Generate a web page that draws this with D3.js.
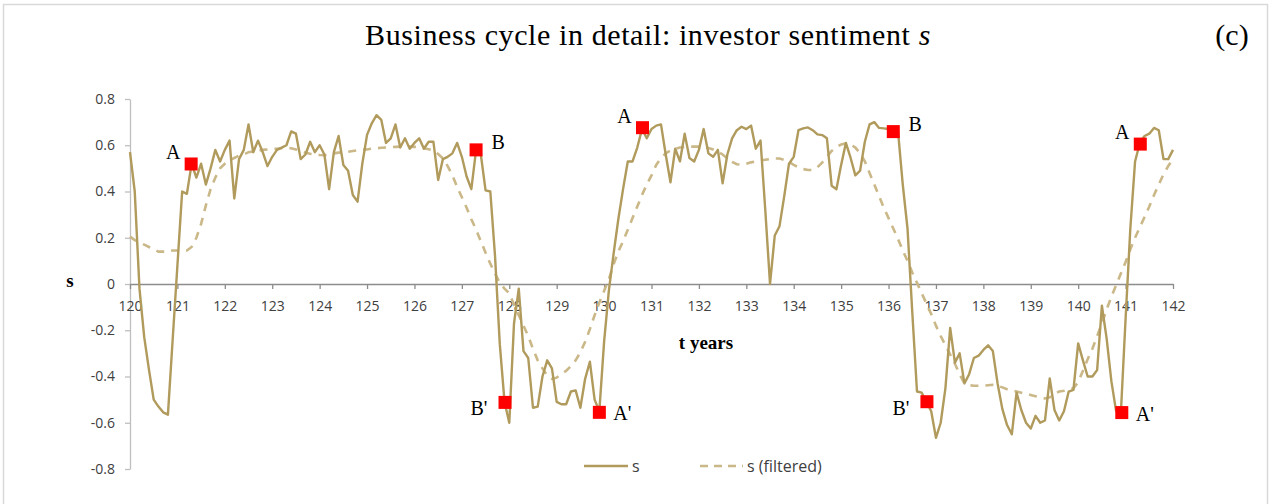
<!DOCTYPE html>
<html>
<head>
<meta charset="utf-8">
<script src="https://cdn.jsdelivr.net/npm/d3@7"></script>
<style>
  html, body { margin: 0; padding: 0; background: #fff; }
  svg { display: block; }
</style>
</head>
<body>
<svg id="chart" width="1271" height="504"></svg>
<script>
// ---------------- DATA ----------------
const tStart = 120;      // first sample (years)
const tStep = 0.1;       // sampling interval (years)

// investor sentiment s, sampled every 0.1 year from t = 120 to t = 142
const sValues = [
  0.57, 0.40, -0.02, -0.23, -0.37, -0.50, -0.53, -0.555, -0.565, -0.24,
  0.08, 0.40, 0.39, 0.52, 0.46, 0.52, 0.43, 0.50, 0.58, 0.53,
  0.58, 0.62, 0.37, 0.54, 0.58, 0.69, 0.57, 0.62, 0.57, 0.51,
  0.55, 0.58, 0.59, 0.60, 0.66, 0.65, 0.54, 0.56, 0.615, 0.57,
  0.60, 0.56, 0.41, 0.57, 0.64, 0.515, 0.49, 0.385, 0.356, 0.52,
  0.645, 0.695, 0.73, 0.71, 0.61, 0.63, 0.69, 0.59, 0.63, 0.585,
  0.61, 0.63, 0.585, 0.615, 0.615, 0.45, 0.54, 0.55, 0.565, 0.61,
  0.55, 0.465, 0.41, 0.58, 0.56, 0.405, 0.40, 0.12, -0.26, -0.51,
  -0.60, -0.17, -0.02, -0.29, -0.32, -0.535, -0.53, -0.40, -0.33, -0.365,
  -0.51, -0.52, -0.52, -0.465, -0.46, -0.535, -0.41, -0.336, -0.50, -0.55,
  -0.25, -0.03, 0.13, 0.28, 0.41, 0.53, 0.53, 0.59, 0.67, 0.63,
  0.67, 0.685, 0.69, 0.56, 0.44, 0.585, 0.53, 0.65, 0.545, 0.53,
  0.58, 0.67, 0.565, 0.55, 0.58, 0.435, 0.56, 0.63, 0.665, 0.68,
  0.67, 0.685, 0.585, 0.62, 0.32, 0.0, 0.21, 0.25, 0.38, 0.52,
  0.55, 0.665, 0.673, 0.677, 0.665, 0.647, 0.644, 0.63, 0.425, 0.41,
  0.515, 0.61, 0.545, 0.47, 0.49, 0.615, 0.69, 0.70, 0.675, 0.673,
  0.67, 0.66, 0.66, 0.43, 0.24, -0.12, -0.465, -0.47, -0.51, -0.55,
  -0.665, -0.60, -0.45, -0.19, -0.34, -0.30, -0.43, -0.39, -0.32, -0.31,
  -0.285, -0.265, -0.29, -0.43, -0.54, -0.61, -0.65, -0.47, -0.545, -0.60,
  -0.625, -0.57, -0.60, -0.59, -0.408, -0.545, -0.59, -0.55, -0.465, -0.458,
  -0.257, -0.33, -0.40, -0.40, -0.372, -0.094, -0.235, -0.42, -0.55, -0.56,
  -0.15, 0.24, 0.53, 0.61, 0.64, 0.65, 0.675, 0.665, 0.54, 0.54,
  0.58
];

// filtered s, same sampling
const sFiltered = [
  0.205, 0.19, 0.18, 0.17, 0.16, 0.15, 0.14, 0.14, 0.14, 0.145,
  0.145, 0.145, 0.145, 0.16, 0.20, 0.26, 0.34, 0.41, 0.46, 0.50,
  0.52, 0.535, 0.545, 0.555, 0.56, 0.57, 0.573, 0.577, 0.58, 0.582,
  0.584, 0.585, 0.587, 0.588, 0.587, 0.582, 0.575, 0.568, 0.563, 0.56,
  0.558, 0.557, 0.56, 0.565, 0.568, 0.57, 0.572, 0.575, 0.578, 0.58,
  0.582, 0.585, 0.587, 0.589, 0.59, 0.592, 0.593, 0.594, 0.594, 0.594,
  0.593, 0.59, 0.587, 0.583, 0.578, 0.562, 0.543, 0.51, 0.47, 0.42,
  0.375, 0.33, 0.28, 0.235, 0.185, 0.135, 0.088, 0.045, 0.005, -0.02,
  -0.04, -0.09, -0.135, -0.18, -0.225, -0.28, -0.33, -0.365, -0.395, -0.41,
  -0.405, -0.39, -0.375, -0.355, -0.33, -0.295, -0.25, -0.195, -0.135, -0.08,
  -0.03, 0.02, 0.085, 0.14, 0.185, 0.235, 0.285, 0.335, 0.385, 0.43,
  0.47, 0.515, 0.545, 0.565, 0.577, 0.585, 0.59, 0.593, 0.594, 0.594,
  0.594, 0.593, 0.588, 0.582, 0.573, 0.56, 0.543, 0.528, 0.518, 0.516,
  0.52, 0.526, 0.53, 0.534, 0.537, 0.54, 0.543, 0.543, 0.537, 0.528,
  0.515, 0.505, 0.497, 0.493, 0.493, 0.505, 0.525, 0.55, 0.575, 0.592,
  0.603, 0.608, 0.603, 0.59, 0.565, 0.53, 0.48, 0.43, 0.38, 0.33,
  0.285, 0.24, 0.195, 0.145, 0.10, 0.05, 0.005, -0.04, -0.085, -0.13,
  -0.18, -0.225, -0.265, -0.305, -0.345, -0.39, -0.43, -0.438, -0.44, -0.44,
  -0.44, -0.438, -0.436, -0.44, -0.447, -0.455, -0.46, -0.465, -0.47, -0.475,
  -0.48, -0.485, -0.49, -0.495, -0.49, -0.475, -0.465, -0.462, -0.458, -0.45,
  -0.425, -0.375, -0.325, -0.28, -0.225, -0.17, -0.11, -0.055, -0.005, 0.045,
  0.095, 0.15, 0.20, 0.245, 0.29, 0.335, 0.385, 0.43, 0.475, 0.51,
  0.54
];

// cycle turning points
const pointLabels = ["A", "B", "B'", "A'", "A", "B", "B'", "A'", "A"];
const pointT      = [121.29, 127.30, 127.91, 129.90, 130.81, 136.10, 136.81, 140.92, 141.31];
const pointS      = [0.519, 0.580, -0.512, -0.555, 0.676, 0.659, -0.509, -0.556, 0.605];

const xTicks = [120,121,122,123,124,125,126,127,128,129,130,131,132,133,134,135,136,137,138,139,140,141,142];
const yTicks = [-0.8,-0.6,-0.4,-0.2,0,0.2,0.4,0.6,0.8];
const seriesNames = ["s", "s (filtered)"];

// ---------------- STYLE / LAYOUT ----------------
const solidColor = "#B09A5C";
const dashColor = "#CBB888";
const tickColor = "#404040";
const labelOffsets = {   // label placement relative to the marker
  "A":  [-18, -12],
  "B":  [22, -8],
  "B'": [-26, 6],
  "A'": [23, 1]
};

const svg = d3.select("#chart");

// outer border
svg.append("rect")
  .attr("x", 3.5).attr("y", 4.5).attr("width", 1264).attr("height", 510)
  .attr("fill", "#fff").attr("stroke", "#D9D9D9").attr("stroke-width", 1.5);

const x = d3.scaleLinear().domain([120, 142]).range([130, 1173]);
const y = d3.scaleLinear().domain([-0.8, 0.8]).range([469, 99]);

const fmt = d => d === 0 ? "0" : d.toFixed(1).replace("\u2212", "-");

// y axis
const yAxis = svg.append("g")
  .attr("transform", `translate(${x(120)},0)`)
  .call(d3.axisLeft(y).tickValues(yTicks).tickFormat(fmt).tickSize(5).tickSizeOuter(0).tickPadding(10));
yAxis.select(".domain").attr("stroke", "#BFBFBF").attr("stroke-width", 1.3);
yAxis.selectAll(".tick line").attr("stroke", "#BFBFBF").attr("stroke-width", 1.3);
yAxis.selectAll(".tick text")
  .attr("fill", tickColor)
  .style("font-family", "'Open Sans', 'Noto Sans', sans-serif")
  .style("font-size", "14px");

// x axis at s = 0
const xAxis = svg.append("g")
  .attr("transform", `translate(0,${y(0)})`)
  .call(d3.axisBottom(x).tickValues(xTicks).tickFormat(d3.format("d")).tickSize(5).tickSizeOuter(0).tickPadding(12));
xAxis.select(".domain").attr("stroke", "#8C8C8C").attr("stroke-width", 1.3);
xAxis.selectAll(".tick line").attr("stroke", "#8C8C8C").attr("stroke-width", 1.3);
xAxis.selectAll(".tick text")
  .attr("fill", tickColor)
  .style("font-family", "'Open Sans', 'Noto Sans', sans-serif")
  .style("font-size", "14px");

// series
const idx = d3.range(sValues.length);
const tOf = i => tStart + i * tStep;

const line = vals => d3.line()
  .x(i => x(tOf(i)))
  .y(i => y(vals[i]));

svg.append("path")
  .attr("d", line(sFiltered)(idx))
  .attr("fill", "none")
  .attr("stroke", dashColor)
  .attr("stroke-width", 2.6)
  .attr("stroke-dasharray", "8,7");

svg.append("path")
  .attr("d", line(sValues)(idx))
  .attr("fill", "none")
  .attr("stroke", solidColor)
  .attr("stroke-width", 2.4)
  .attr("stroke-linejoin", "round");

// markers
const msize = 13;
svg.selectAll("rect.marker")
  .data(pointT)
  .join("rect")
  .attr("class", "marker")
  .attr("x", (d) => x(d) - msize / 2)
  .attr("y", (d, i) => y(pointS[i]) - msize / 2)
  .attr("width", msize).attr("height", msize)
  .attr("fill", "#FF0000");

svg.selectAll("text.plabel")
  .data(pointLabels)
  .join("text")
  .attr("class", "plabel")
  .attr("x", (d, i) => x(pointT[i]) + labelOffsets[d][0])
  .attr("y", (d, i) => y(pointS[i]) + labelOffsets[d][1])
  .attr("text-anchor", "middle")
  .attr("dominant-baseline", "central")
  .style("font-family", "'Liberation Serif', 'DejaVu Serif', serif")
  .style("font-size", "20px")
  .attr("fill", "#000")
  .text(d => d);

// title
const title = svg.append("text")
  .attr("x", 648).attr("y", 45)
  .attr("text-anchor", "middle")
  .style("font-family", "'Liberation Serif', 'DejaVu Serif', serif")
  .style("font-size", "30px")
  .style("letter-spacing", "0.6px")
  .attr("fill", "#000");
title.append("tspan").text("Business cycle in detail: investor sentiment ");
title.append("tspan").style("font-style", "italic").text("s");

svg.append("text")
  .attr("x", 1232).attr("y", 45)
  .attr("text-anchor", "middle")
  .style("font-family", "'Liberation Serif', 'DejaVu Serif', serif")
  .style("font-size", "30px")
  .text("(c)");

// axis titles
svg.append("text")
  .attr("x", 70).attr("y", 287)
  .attr("text-anchor", "middle")
  .style("font-family", "'Liberation Serif', 'DejaVu Serif', serif")
  .style("font-size", "19px").style("font-weight", "bold")
  .text("s");

svg.append("text")
  .attr("x", 706).attr("y", 349)
  .attr("text-anchor", "middle")
  .style("font-family", "'Liberation Serif', 'DejaVu Serif', serif")
  .style("font-size", "19px").style("font-weight", "bold")
  .text("t years");

// legend
const legend = svg.append("g").attr("transform", "translate(0,466)");
const legendItems = [
  {name: seriesNames[0], x1: 584, x2: 628, color: solidColor, dash: null},
  {name: seriesNames[1], x1: 700, x2: 743, color: dashColor, dash: "8,6"}
];
legendItems.forEach(it => {
  legend.append("line")
    .attr("x1", it.x1).attr("x2", it.x2).attr("y1", 0).attr("y2", 0)
    .attr("stroke", it.color).attr("stroke-width", 2.6)
    .attr("stroke-dasharray", it.dash);
  legend.append("text")
    .attr("x", it.x2 + 4).attr("y", 0)
    .attr("dominant-baseline", "central")
    .style("font-family", "'Open Sans', 'Noto Sans', sans-serif")
    .style("font-size", "16px")
    .attr("fill", tickColor)
    .text(it.name);
});
</script>
</body>
</html>
